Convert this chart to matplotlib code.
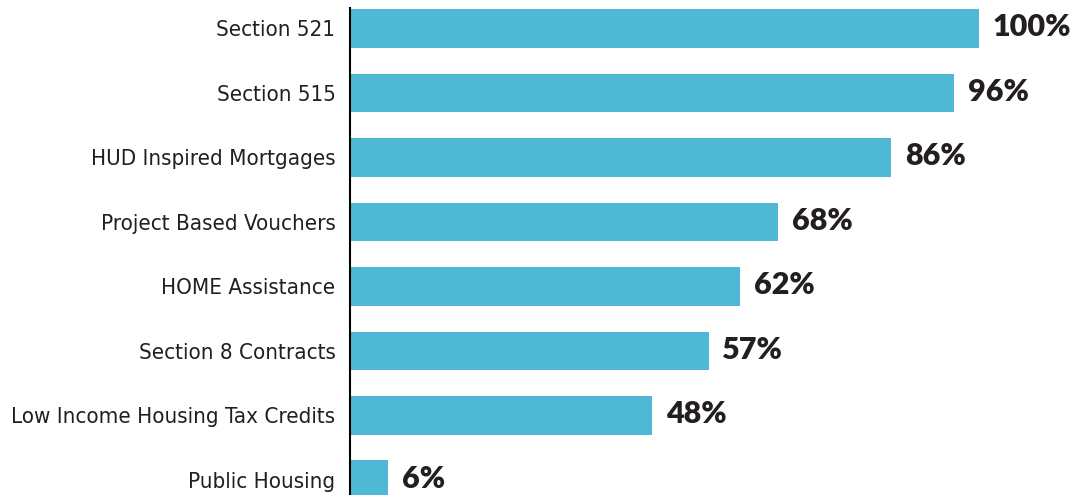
#!/usr/bin/env python3

import matplotlib
matplotlib.use("Agg")
import matplotlib.pyplot as plt
from matplotlib import font_manager


# Share of properties by program
programs = [
    "Section 521",
    "Section 515",
    "HUD Inspired Mortgages",
    "Project Based Vouchers",
    "HOME Assistance",
    "Section 8 Contracts",
    "Low Income Housing Tax Credits",
    "Public Housing",
]
shares = [100, 96, 86, 68, 62, 57, 48, 6]

BAR_COLOR = "#4fb8d5"
TEXT_COLOR = "#231f20"


# Pick a narrow regular face for the category names, if one is around
def narrow_font():
    best = None
    for f in font_manager.fontManager.ttflist:
        stretch = str(f.stretch).lower()
        narrow = ("condensed" in stretch or "narrow" in f.name.lower()
                  or "condensed" in f.name.lower()
                  or "condensed" in f.fname.lower())
        if not narrow or f.style != "normal":
            continue
        if f.weight not in (400, "normal", "regular", "book"):
            continue
        if "semi" in stretch or "semi" in f.fname.lower():
            continue
        if best is None or "Liberation" in f.name:
            best = f
    if best is None:
        return None
    return font_manager.FontProperties(fname=best.fname)


label_font = narrow_font()

fig = plt.figure(figsize=(10.74, 4.95), dpi=100)
ax = fig.add_axes([350 / 1074, 0.0, 629 / 1074, 487 / 495])

pos = list(range(len(programs)))
ax.barh(pos, shares, height=0.6, color=BAR_COLOR)

ax.set_xlim(0, 100)
ax.set_ylim(7.235, -0.316)

# Category names on the left
ax.set_yticks(pos)
ax.set_yticklabels(programs)
ax.tick_params(axis="y", length=0, pad=10.5)
for t in ax.get_yticklabels():
    if label_font is not None:
        t.set_fontproperties(label_font)
        t.set_fontsize(16)
    else:
        t.set_fontsize(14)
    t.set_color(TEXT_COLOR)
ax.set_xticks([])

# Value labels at the end of each bar
for y, v in zip(pos, shares):
    ax.text(v + 2.2, y - 0.02, "%d%%" % v, va="center", ha="left",
            family=["Lato", "DejaVu Sans"], fontweight="heavy", fontsize=22,
            color=TEXT_COLOR, clip_on=False)

for side in ["top", "right", "bottom"]:
    ax.spines[side].set_visible(False)
ax.spines["left"].set_linewidth(1.5)
ax.spines["left"].set_color("black")

fig.savefig("out.png", dpi=100)
